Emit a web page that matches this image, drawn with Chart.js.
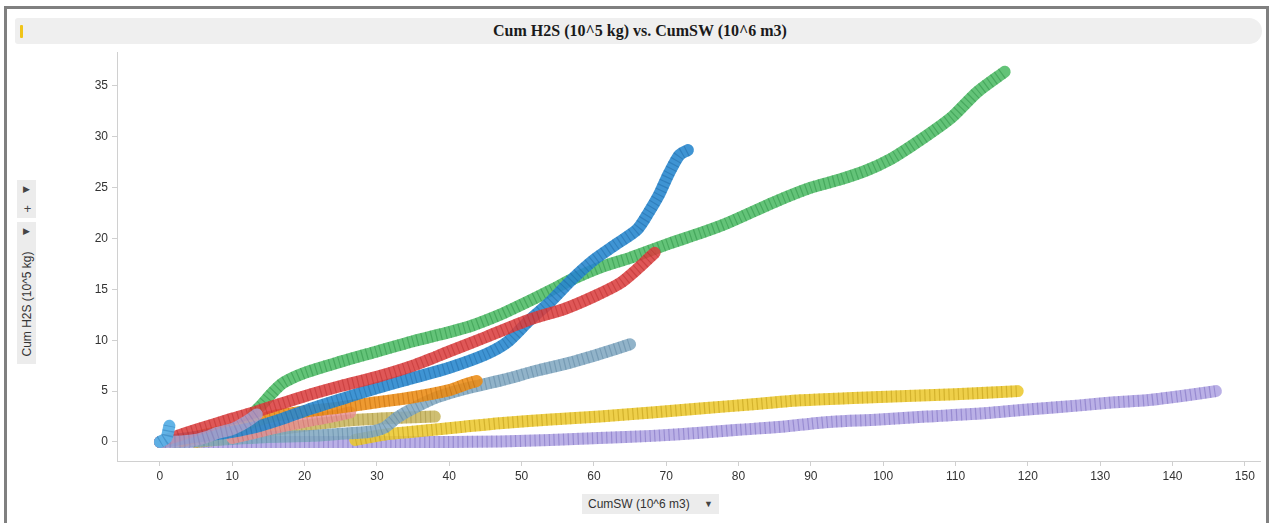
<!DOCTYPE html>
<html>
<head>
<meta charset="utf-8">
<script src="https://cdn.jsdelivr.net/npm/chart.js@4.4.1/dist/chart.umd.min.js"></script>
<style>
  html, body { margin: 0; padding: 0; background: #fff; width: 1272px; height: 523px; overflow: hidden;
    font-family: "Liberation Sans", Arial, sans-serif; }
  #frame { position: absolute; left: 4px; top: 6px; width: 1265px; height: 530px; box-sizing: border-box;
    border: 3px solid #808080; }
  #titlebar { position: absolute; left: 15px; top: 18px; width: 1247px; height: 26px; background: #efefef;
    border-radius: 3px 13px 13px 3px; }
  #titlemark { position: absolute; left: 20px; top: 25px; width: 3px; height: 13px; background: #f0c419; border-radius: 1px; }
  #title { position: absolute; left: 15px; top: 18px; width: 1250px; height: 26px; line-height: 26px; text-align: center;
    font-family: "Liberation Serif", "Times New Roman", serif; font-weight: bold; font-size: 16px; color: #1a1a1a; }
  .ybox { position: absolute; left: 17px; width: 19px; background: #ececec; }
  #ybox1 { top: 180px; height: 38px; }
  #ybox2 { top: 222px; height: 142px; }
  .glyph { position: absolute; font-size: 9px; color: #444; width: 19px; text-align: center; }
  #ytitle { position: absolute; left: 27px; top: 304px; transform: translate(-50%, -50%) rotate(-90deg);
    white-space: nowrap; font-size: 12px; color: #333; }
  #xbox { position: absolute; left: 582px; top: 494px; width: 137px; height: 20px; background: #ececec; }
  #xtitle { position: absolute; left: 588px; top: 494px; height: 20px; line-height: 20px; font-size: 12px; color: #333; white-space: nowrap; }
  #xarrow { position: absolute; left: 704px; top: 494px; height: 20px; line-height: 20px; font-size: 9px; color: #444; }
  #chart { position: absolute; left: 0; top: 0; z-index: 2; }
</style>
</head>
<body>
<div id="frame"></div>
<div id="titlebar"></div>
<div id="titlemark"></div>
<div id="title">Cum H2S (10^5 kg) vs. CumSW (10^6 m3)</div>
<div class="ybox" id="ybox1"></div>
<div class="ybox" id="ybox2"></div>
<div class="glyph" style="left:17px;top:184px;">&#9654;</div>
<div class="glyph" style="left:18px;top:201px;font-size:13px;">+</div>
<div class="glyph" style="left:17px;top:226px;">&#9654;</div>
<div id="ytitle">Cum H2S (10^5 kg)</div>
<div id="xbox"></div>
<div id="xtitle">CumSW (10^6 m3)</div>
<div id="xarrow">&#9660;</div>
<canvas id="chart" width="1272" height="523"></canvas>

<script>
// Cumulative H2S (10^5 kg) against cumulative SW (10^6 m3), one array per well: [CumSW, CumH2S]
const tealWell = [[0,0],[0.9,0.4],[1.1,0.9],[1.3,1.6]];
const lavenderWell = [[0,0],[3,0.05],[5,0.2],[6.5,0.5],[8,0.9],[9.7,1.2],[11,1.6],[12.4,2.2],[13.4,2.7]];
const redWell = [[0,0],[2,0.5],[5,1.2],[10,2.3],[13.4,3.0],[20,4.5],[25,5.5],[30,6.4],[35,7.5],[40,8.9],[45,10.3],
  [51,12.0],[56,13.1],[60,14.3],[63.6,15.6],[66,17.0],[68.4,18.6]];
const blueWell = [[0,0],[3,0.3],[6,0.6],[10,1.0],[13.4,1.5],[17,2.3],[21,3.3],[25,4.2],[30,5.3],[35,6.3],[40,7.3],
  [45,8.6],[48,9.8],[51,11.9],[54,13.8],[57,16.0],[60,17.9],[63,19.4],[66,20.9],[67.6,22.6],[69,24.3],[70.3,26.3],
  [71.8,28.2],[73,28.7]];
const greenWell = [[13,2.9],[14,3.6],[15.5,4.8],[17,5.8],[20,6.8],[25,7.9],[30,8.9],[35,9.9],[40,10.8],[43,11.4],
  [47,12.5],[50,13.5],[54,14.9],[57,16.0],[61,17.2],[65,18.1],[70,19.4],[75,20.6],[78.4,21.5],[85,23.6],[90,25.0],
  [94,25.8],[97.7,26.7],[101,27.8],[103.7,29.0],[107,30.6],[109.6,32.0],[113,34.4],[116.8,36.4]];
const orangeWell = [[3,0.1],[5,0.5],[10,1.3],[13.4,2.1],[16,2.6],[18,2.8],[20,3.0],[25,3.4],[30,3.9],[35,4.4],
  [40,5.1],[42,5.6],[43.8,6.0]];
const pinkWell = [[10,0.4],[13,0.9],[16.6,1.5],[20,2.0],[23,2.4],[26.3,2.9]];
const steelWell = [[2,0],[5,0.1],[10,0.3],[15,0.5],[21,0.6],[25,0.8],[29,1.0],[31,1.4],[32.8,2.4],[35,3.3],
  [38.3,4.4],[42,5.2],[47.4,6.1],[52,7.0],[56.7,7.8],[61,8.7],[65,9.6]];
const khakiWell = [[5,0],[8.8,0.3],[11,0.6],[13,0.9],[15.7,1.2],[20,1.6],[25.8,2.1],[30.4,2.3],[34,2.4],[38,2.5]];
const yellowWell = [[27,0.2],[30,0.6],[31.8,0.8],[37.8,1.2],[42,1.5],[47,1.85],[54,2.2],[60.8,2.5],[68,2.9],
  [74.7,3.3],[82,3.7],[88.5,4.1],[95,4.3],[102.3,4.5],[110,4.7],[118.6,5.0]];
const purpleWell = [[0,0],[10,0],[20,0],[30,0],[40,0],[47,0.05],[54,0.2],[60.8,0.4],[68,0.6],[74.7,0.9],[80,1.2],
  [86,1.5],[90,1.8],[93,2.0],[99.5,2.2],[106,2.5],[113.4,2.8],[120,3.2],[127.2,3.6],[132,3.9],[136.4,4.1],
  [141,4.5],[146,5.0]];

const xTicks = [0,10,20,30,40,50,60,70,80,90,100,110,120,130,140,150];
const yTicks = [0,5,10,15,20,25,30,35];

// drawing order: first entry ends up on top; [fill colour, ring colour]
const wells = [
  { data: tealWell,     fill: 'rgba(90,176,230,0.95)',  ring: 'rgba(40,120,180,0.45)' },
  { data: lavenderWell, fill: 'rgba(170,162,205,0.85)', ring: 'rgba(120,110,170,0.4)' },
  { data: redWell,      fill: 'rgba(219,64,64,0.88)',   ring: 'rgba(170,30,30,0.35)' },
  { data: blueWell,     fill: 'rgba(42,136,206,0.9)',   ring: 'rgba(20,90,150,0.35)' },
  { data: greenWell,    fill: 'rgba(72,184,96,0.85)',   ring: 'rgba(30,130,55,0.4)' },
  { data: orangeWell,   fill: 'rgba(236,140,20,0.88)',  ring: 'rgba(180,95,0,0.4)' },
  { data: pinkWell,     fill: 'rgba(230,146,146,0.85)', ring: 'rgba(190,90,90,0.4)' },
  { data: steelWell,    fill: 'rgba(130,169,194,0.88)', ring: 'rgba(80,120,150,0.4)' },
  { data: khakiWell,    fill: 'rgba(200,182,95,0.88)',  ring: 'rgba(150,130,50,0.4)' },
  { data: yellowWell,   fill: 'rgba(236,200,48,0.88)',  ring: 'rgba(180,145,10,0.45)' },
  { data: purpleWell,   fill: 'rgba(160,146,220,0.72)', ring: 'rgba(110,95,185,0.45)' }
];

const tickFont = { family: '"Liberation Sans", Arial, sans-serif', size: 12 };

// each well: a textured stroke (thin cross rings) over a solid band
const datasets = [];
wells.forEach(w => {
  const pts = w.data.map(p => ({ x: p[0], y: p[1] }));
  const common = { data: pts, showLine: true, borderWidth: 12, borderJoinStyle: 'round', tension: 0.25, pointRadius: 0 };
  datasets.push(Object.assign({}, common, { borderColor: w.ring, borderCapStyle: 'butt', borderDash: [1.2, 3.6] }));
  datasets.push(Object.assign({}, common, { borderColor: w.fill, borderCapStyle: 'round' }));
});

new Chart(document.getElementById('chart'), {
  type: 'scatter',
  data: { datasets },
  options: {
    responsive: false,
    animation: false,
    events: [],
    layout: { padding: { left: 0, top: 52, right: 12, bottom: 0 } },
    plugins: { legend: { display: false }, tooltip: { enabled: false } },
    scales: {
      x: {
        type: 'linear', min: -5.94, max: 152.1,
        afterBuildTicks: s => { s.ticks = xTicks.map(v => ({ value: v })); },
        afterFit: s => { s.height = 62; },
        grid: { drawOnChartArea: false, tickLength: 5, color: '#d0d0d0' },
        border: { color: '#d0d0d0' },
        ticks: { font: tickFont, color: '#333', padding: 3, maxRotation: 0, autoSkip: false }
      },
      y: {
        type: 'linear', min: -1.87, max: 38.34,
        afterBuildTicks: s => { s.ticks = yTicks.map(v => ({ value: v })); },
        afterFit: s => { s.width = 117; },
        grid: { drawOnChartArea: false, tickLength: 5, color: '#d0d0d0' },
        border: { color: '#d0d0d0' },
        ticks: { font: tickFont, color: '#333', padding: 4, autoSkip: false }
      }
    }
  }
});
</script>
</body>
</html>
